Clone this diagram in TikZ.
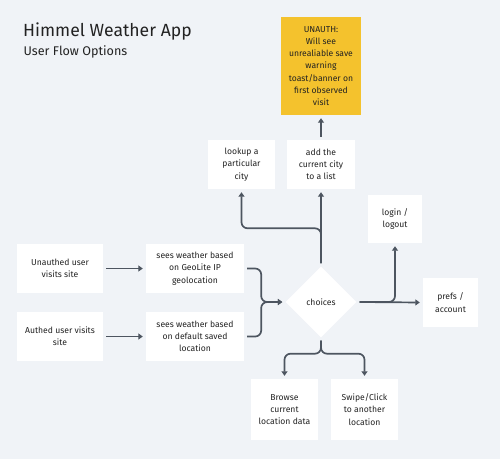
\documentclass[tikz,border=0pt]{standalone}
\usepackage{fontspec}
\setmainfont{Fira Sans}
\usetikzlibrary{shapes.geometric,arrows.meta}
\definecolor{bgc}{HTML}{F0F3F7}
\definecolor{linec}{HTML}{4D5560}
\definecolor{txtc}{HTML}{222222}
\definecolor{yel}{HTML}{F4C22D}
\tikzset{
  box/.style={fill=white,draw=none,inner sep=0pt,align=center,text=txtc,
    font=\fontsize{8.6}{12.3}\selectfont},
  conn/.style={draw=linec,line width=1.7pt,-{Triangle[width=6pt,length=4.5pt]},
    shorten >=3pt,shorten <=3pt,rounded corners=6pt},
}
\begin{document}
\begin{tikzpicture}[x=1pt,y=-1pt]
\fill[bgc] (0,0) rectangle (500,459);
\useasboundingbox (0,0) rectangle (500,459);
\node[anchor=base west,inner sep=0pt,text=txtc,font=\fontsize{17.6}{20}\selectfont] (title) at (23,36) {Himmel Weather App};
\node[anchor=base west,inner sep=0pt,text=txtc,font=\fontsize{12.6}{14}\selectfont] (sub) at (23.5,55) {User Flow Options};

\node[box,minimum width=86pt,minimum height=49pt] (unauth) at (60,268.5) {Unauthed user\\visits site};
\node[box,minimum width=98pt,minimum height=49pt] (geo) at (195,268.5) {sees weather based\\on GeoLite IP\\geolocation};
\node[box,minimum width=86pt,minimum height=49pt] (auth) at (60,336.5) {Authed user visits\\site};
\node[box,minimum width=98pt,minimum height=49pt] (def) at (195,336.5) {sees weather based\\on default saved\\location};
\node[box,shape=diamond,minimum width=71pt,minimum height=71pt] (choices) at (321,302) {choices};
\node[box,minimum width=67pt,minimum height=49pt] (lookup) at (241.5,164.5) {lookup a\\particular\\city};
\node[box,minimum width=68pt,minimum height=49pt] (add) at (321,164.5) {add the\\current city\\to a list};
\node[box,fill=yel,minimum width=80pt,minimum height=98pt] (unauthw) at (321,66) {UNAUTH:\\Will see\\unrealiable save\\warning\\toast/banner on\\first observed\\visit};
\node[box,minimum width=54pt,minimum height=48pt] (login) at (395,219) {login /\\logout};
\node[box,minimum width=55pt,minimum height=49pt] (prefs) at (450.5,302.5) {prefs /\\account};
\node[box,minimum width=67pt,minimum height=61pt] (browse) at (284.5,409.5) {Browse\\current\\location data};
\node[box,minimum width=67pt,minimum height=61pt] (swipe) at (364.5,409.5) {Swipe/Click\\to another\\location};

\draw[conn] (unauth) -- (geo);
\draw[conn] (auth) -- (def);
\draw[conn] (geo.east) -- ++(17,0) |- (choices.west);
\draw[conn] (def.east) -- ++(17,0) |- (choices.west);
\draw[conn] (choices.north) -- (add.south);
\draw[conn] (choices.north) -- ++(0,-38) -| (lookup.south);
\draw[conn] (add.north) -- (unauthw.south);
\draw[conn] (choices.east) -- (prefs.west);
\draw[conn] (choices.east) -| (login.south);
\draw[conn] (choices.south) -- ++(0,16) -| (browse.north);
\draw[conn] (choices.south) -- ++(0,16) -| (swipe.north);
\end{tikzpicture}
\end{document}
